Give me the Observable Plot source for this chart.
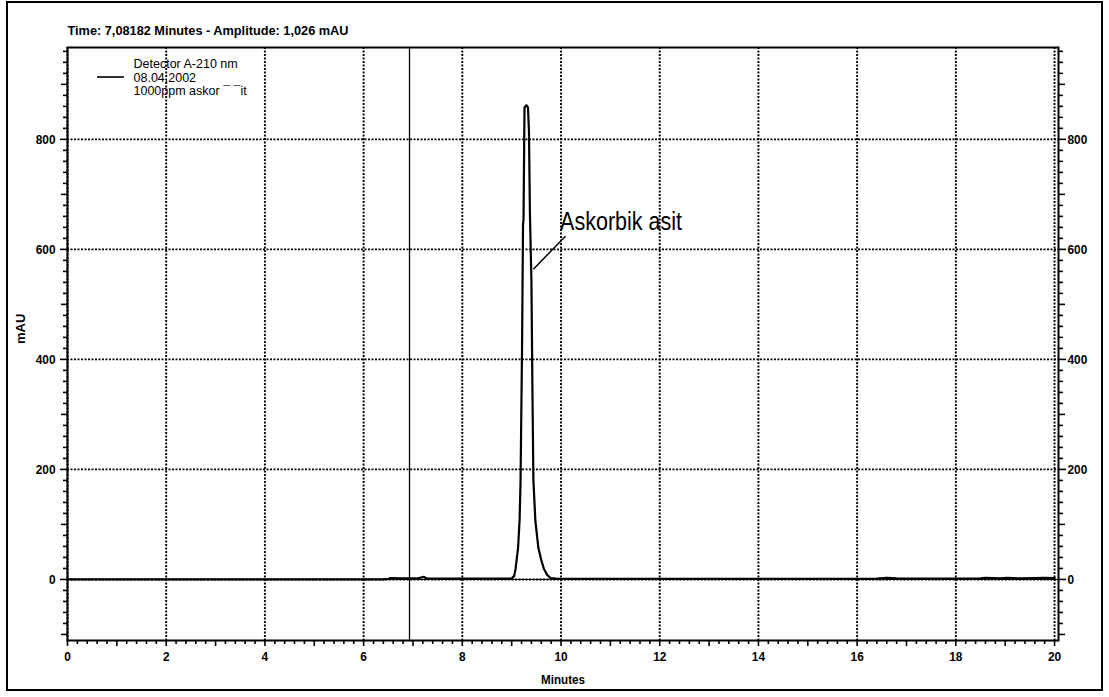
<!DOCTYPE html>
<html>
<head>
<meta charset="utf-8">
<script src="https://cdn.jsdelivr.net/npm/d3@7"></script>
<script src="https://cdn.jsdelivr.net/npm/@observablehq/plot@0.6"></script>
<style>
  html, body { margin: 0; padding: 0; background: #fff; }
  #wrap { position: relative; width: 1109px; height: 697px; overflow: hidden; }
  #border { position: absolute; left: 6px; top: 1px; width: 1097px; height: 690px; border: 2.5px solid #000; box-sizing: border-box; pointer-events: none; }
</style>
</head>
<body>
<div id="wrap"><div id="border"></div></div>
<script>
// ---- Data ----
const minutes = [0, 6.4, 6.5, 6.55, 6.8, 7.1, 7.18, 7.22, 7.28, 7.6, 8.0, 8.5, 8.95, 9.0, 9.05, 9.08, 9.13, 9.16, 9.18, 9.21, 9.23, 9.24, 9.26, 9.30, 9.33, 9.35, 9.37, 9.40, 9.42, 9.44, 9.48, 9.54, 9.60, 9.65, 9.72, 9.79, 9.9, 10.5, 11.5, 12.5, 13.5, 14.5, 15.5, 16.4, 16.6, 16.8, 17.2, 18.0, 18.5, 18.6, 18.9, 19.05, 19.3, 19.8, 20.0];
const mAU     = [0, 0,   1,   2.5,  2,   2,   4,    4.5,  2,    1.5, 1.5, 1.5, 1.5,  2,   6,    20,   58,   107,  180,  420,  645,  655,  858,  862,  858,  816,  665,  544,  350,  180,  107,  58,   35,   20,   8,    2.5,  1.5, 1.2,  1.2,  1.2,  1.2,  1.3,  1.3,  1.5,  3,    2,    1.5,  1.5,  1.8,  3,    1.8,  3,    1.8,  3,    2.5];

const cursorTime = 6.93;          // vertical cursor line (minutes)
const xTickLabels = [0, 2, 4, 6, 8, 10, 12, 14, 16, 18, 20];
const yTickLabels = [0, 200, 400, 600, 800];
const titleText = "Time: 7,08182 Minutes - Amplitude: 1,026 mAU";
const legendLines = ["Detector A-210 nm", "08.04.2002", "1000ppm askor \u00AF \u00AFit"];
const peakLabel = "Askorbik asit";
const peakLabelPos = {x: 9.98, y: 650};
const leader = {x1: 9.44, y1: 564, x2: 10.09, y2: 624};

const trace = minutes.map((t, i) => ({t, v: mAU[i]}));

// tick positions
const xMinor = d3.range(0, 100.5, 1).map(i => i / 5).filter(v => Math.abs(v - Math.round(v)) > 1e-6);
const xMid = d3.range(1, 20, 2);
const yMinor = d3.range(-100, 961, 20).filter(v => v % 100 !== 0);
const yMid = d3.range(-100, 961, 100).filter(v => v % 200 !== 0);

const font = "'Liberation Sans', Arial, sans-serif";

const gridStyle = {stroke: "#000", strokeOpacity: 1, strokeWidth: 1.9, strokeDasharray: "2,1.5"};
const tickStyle = {strokeWidth: 1.6, stroke: "#000", tickFormat: () => "", label: null};

const chart = Plot.plot({
  width: 1109,
  height: 697,
  marginTop: 47,
  marginBottom: 57,
  marginLeft: 67,
  marginRight: 51,
  style: {fontFamily: font, fontSize: "13px", color: "#000", background: "transparent"},
  x: {domain: [0, 20.08]},
  y: {domain: [-111, 967]},
  marks: [
    Plot.gridX(xTickLabels, gridStyle),
    Plot.gridY(yTickLabels, gridStyle),
    Plot.ruleY([0], {stroke: "#000", strokeWidth: 1}),
    Plot.ruleX([cursorTime], {stroke: "#000", strokeWidth: 1.3}),
    Plot.line(trace, {x: "t", y: "v", stroke: "#000", strokeWidth: 2.2}),
    Plot.frame({stroke: "#000", strokeWidth: 2}),
    // left axis ticks
    Plot.axisY(yMinor, {anchor: "left", tickSize: 4, ...tickStyle}),
    Plot.axisY(yMid, {anchor: "left", tickSize: 6, ...tickStyle}),
    Plot.axisY(yTickLabels, {anchor: "left", tickSize: 7, ...tickStyle}),
    Plot.axisY(yTickLabels, {anchor: "left", tickSize: 0, tickPadding: 12, label: null, fontWeight: "bold", fontSize: 13, className: "narrow"}),
    // right axis ticks
    Plot.axisY(yMinor, {anchor: "right", tickSize: 4, ...tickStyle}),
    Plot.axisY(yMid, {anchor: "right", tickSize: 6, ...tickStyle}),
    Plot.axisY(yTickLabels, {anchor: "right", tickSize: 7, ...tickStyle}),
    Plot.axisY(yTickLabels, {anchor: "right", tickSize: 0, tickPadding: 9, label: null, fontWeight: "bold", fontSize: 13, className: "narrow"}),
    // bottom axis ticks
    Plot.axisX(xMinor, {anchor: "bottom", tickSize: 4, ...tickStyle}),
    Plot.axisX(xMid, {anchor: "bottom", tickSize: 6, ...tickStyle}),
    Plot.axisX(xTickLabels, {anchor: "bottom", tickSize: 6, ...tickStyle}),
    Plot.axisX(xTickLabels, {anchor: "bottom", tickSize: 0, tickPadding: 11, label: null, fontWeight: "bold", fontSize: 13, className: "narrow"}),
    // axis titles
    Plot.text(["Minutes"], {frameAnchor: "bottom", dy: 43, fontWeight: "bold", fontSize: 13, className: "fit-minutes"}),
    Plot.text(["mAU"], {frameAnchor: "left", dx: -47, rotate: -90, fontWeight: "bold", fontSize: 13}),
    // header
    Plot.text([titleText], {frameAnchor: "top-left", dy: -22, textAnchor: "start", fontSize: 13, fontWeight: "bold", className: "fit-title"}),
    // legend
    Plot.text([legendLines.join("\n")], {frameAnchor: "top-left", dx: 66, dy: 30, textAnchor: "start", lineAnchor: "middle", lineHeight: 1.08, fontSize: 12.5}),
    // peak annotation
    Plot.link([leader], {x1: "x1", y1: "y1", x2: "x2", y2: "y2", stroke: "#000", strokeWidth: 1.5}),
    Plot.text([peakLabel], {x: () => peakLabelPos.x, y: () => peakLabelPos.y, textAnchor: "start", lineAnchor: "middle", fontSize: 25, className: "fit-peak"})
  ]
});

document.getElementById("wrap").prepend(chart);

// condense texts to the widths of the (narrow) original font
function fit(cls, w) {
  d3.select(chart).selectAll("g." + cls + " text")
    .attr("textLength", w).attr("lengthAdjust", "spacingAndGlyphs");
}
fit("fit-peak", 122);
fit("fit-title", 281);
fit("fit-minutes", 44);
d3.select(chart).selectAll("g.narrow text").each(function() {
  const n = this.textContent.length;
  d3.select(this).attr("textLength", n * 6.6).attr("lengthAdjust", "spacingAndGlyphs");
});

// legend key line
d3.select(chart).append("line")
  .attr("x1", 97).attr("x2", 124).attr("y1", 77).attr("y2", 77)
  .attr("stroke", "#000").attr("stroke-width", 1.6);
</script>
</body>
</html>
